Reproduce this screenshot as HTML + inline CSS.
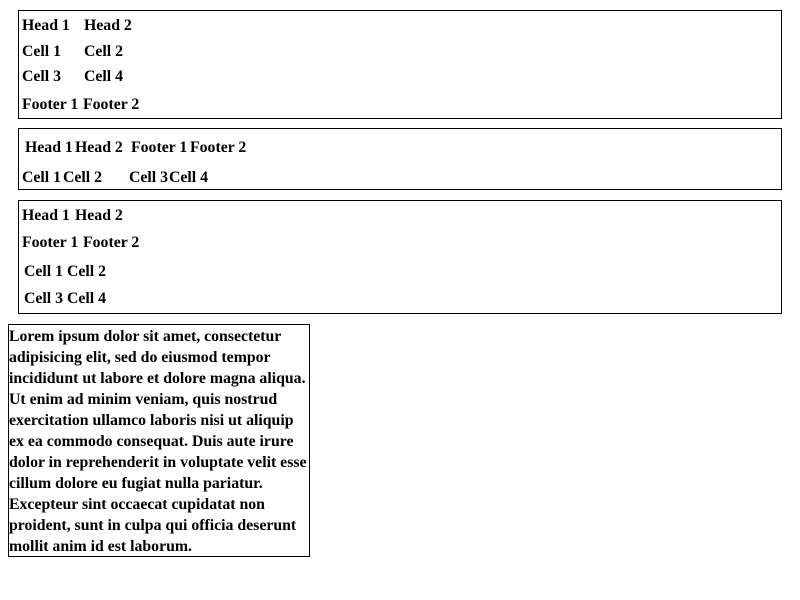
<!DOCTYPE html>
<html><head><style>
body{margin:0;width:800px;height:600px;background:#fff;position:relative;font:bold 15.8px "Liberation Serif",serif;color:#000}
.b{position:absolute;border:1px solid #000;box-sizing:border-box}
.t{position:absolute;line-height:18px;white-space:nowrap}
.p{position:absolute;left:8px;top:324px;width:302px;height:233px;border:1px solid #000;box-sizing:border-box;padding:1px 0 0 0;line-height:21px;font-size:15.8px;white-space:nowrap}
</style></head><body>
<div class="b" style="left:18px;top:10px;width:764px;height:109px"></div>
<div class="b" style="left:18px;top:128px;width:764px;height:62px"></div>
<div class="b" style="left:18px;top:200px;width:764px;height:114px"></div>

<span class="t" style="left:22px;top:17px">Head 1</span><span class="t" style="left:84px;top:17px">Head 2</span>
<span class="t" style="left:22px;top:43px">Cell 1</span><span class="t" style="left:84px;top:43px">Cell 2</span>
<span class="t" style="left:22px;top:68px">Cell 3</span><span class="t" style="left:84px;top:68px">Cell 4</span>
<span class="t" style="left:22px;top:96px">Footer 1</span><span class="t" style="left:83px;top:96px">Footer 2</span>

<span class="t" style="left:25px;top:139px">Head 1</span><span class="t" style="left:75px;top:139px">Head 2</span>
<span class="t" style="left:131px;top:139px">Footer 1</span><span class="t" style="left:190px;top:139px">Footer 2</span>
<span class="t" style="left:22px;top:169px">Cell 1</span><span class="t" style="left:63px;top:169px">Cell 2</span>
<span class="t" style="left:129px;top:169px">Cell 3</span><span class="t" style="left:169px;top:169px">Cell 4</span>

<span class="t" style="left:22px;top:207px">Head 1</span><span class="t" style="left:75px;top:207px">Head 2</span>
<span class="t" style="left:22px;top:234px">Footer 1</span><span class="t" style="left:83px;top:234px">Footer 2</span>
<span class="t" style="left:24px;top:263px">Cell 1</span><span class="t" style="left:67px;top:263px">Cell 2</span>
<span class="t" style="left:24px;top:290px">Cell 3</span><span class="t" style="left:67px;top:290px">Cell 4</span>

<div class="p">Lorem ipsum dolor sit amet, consectetur<br>adipisicing elit, sed do eiusmod tempor<br>incididunt ut labore et dolore magna aliqua.<br>Ut enim ad minim veniam, quis nostrud<br>exercitation ullamco laboris nisi ut aliquip<br>ex ea commodo consequat. Duis aute irure<br>dolor in reprehenderit in voluptate velit esse<br>cillum dolore eu fugiat nulla pariatur.<br>Excepteur sint occaecat cupidatat non<br>proident, sunt in culpa qui officia deserunt<br>mollit anim id est laborum.</div>
</body></html>
